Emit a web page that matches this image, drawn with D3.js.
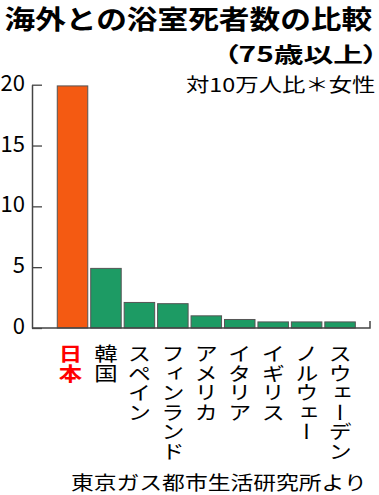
<!DOCTYPE html>
<html><head><meta charset="utf-8">
<script src="https://cdn.jsdelivr.net/npm/d3@7"></script>
<style>
html,body{margin:0;padding:0;background:#fff;}
svg{display:block;}
text{font-family:"Noto Sans CJK JP","Noto Sans",sans-serif;}
</style></head>
<body>
<script>
const categories = ["日本","韓国","スペイン","フィンランド","アメリカ","イタリア","イギリス","ノルウェー","スウェーデン"];
const values = [19.9, 4.9, 2.1, 2.0, 1.0, 0.7, 0.5, 0.5, 0.5];
const yTicks = [0, 5, 10, 15, 20];
const title = "海外との浴室死者数の比較";
const subtitle = "（75歳以上）";
const note = "対10万人比＊女性";
const source = "東京ガス都市生活研究所より";

const W = 379, H = 495;
const svg = d3.select("body").append("svg").attr("width", W).attr("height", H);

const x = d3.scaleBand().domain(categories).range([55.8, 356.8]).paddingInner(0.088).paddingOuter(0.044);
const y = d3.scaleLinear().domain([0, 20]).range([328, 84.7]);

// bars
svg.append("g").selectAll("rect").data(values).join("rect")
  .attr("x", (d,i) => x(categories[i]))
  .attr("y", d => y(d))
  .attr("width", x.bandwidth())
  .attr("height", d => y(0) - y(d))
  .attr("fill", (d,i) => i === 0 ? "#F45A12" : "#1D9B64")
  .attr("stroke", "#555")
  .attr("stroke-width", 1);

// y axis
const yAxis = svg.append("g").attr("transform", "translate(32,0)")
  .call(d3.axisLeft(y).tickValues(yTicks).tickSizeInner(-10).tickSizeOuter(0).tickPadding(7).tickFormat(d3.format("d")));
yAxis.select(".domain").attr("stroke", "#444").attr("stroke-width", 1.5);
yAxis.selectAll(".tick line").attr("stroke", "#444").attr("stroke-width", 1.3);
yAxis.selectAll(".tick text")
  .attr("font-family", "'Liberation Sans', Arial, sans-serif")
  .attr("font-size", 22).attr("dy", "0.25em").style("fill", "#000");

// x axis baseline
svg.append("path")
  .attr("d", d3.line()([[32, y(0)], [370, y(0)], [370, y(0) - 7]]))
  .attr("fill", "none").attr("stroke", "#444").attr("stroke-width", 1.5);

// category labels (vertical, horizontally stretched like the original)
svg.append("g").selectAll("text").data(categories).join("text")
  .attr("transform", d => `translate(${x(d) + x.bandwidth() / 2 - (d === "日本" ? 2 : 0)},344) scale(1.2,1)`)
  .style("writing-mode", "vertical-rl")
  .attr("text-anchor", "start")
  .attr("font-size", 19.5)
  .attr("font-weight", d => d === "日本" ? "bold" : "normal")
  .style("fill", d => d === "日本" ? "#F00" : "#000")
  .text(d => d);

function stretched(str, tx, ty, size, sx, weight, anchor, extraStyle) {
  const t = svg.append("text")
    .attr("transform", `translate(${tx},${ty}) scale(${sx},1)`)
    .attr("dominant-baseline", "central")
    .attr("text-anchor", anchor)
    .attr("font-size", size)
    .attr("font-weight", weight)
    .style("fill", "#000")
    .text(str);
  if (extraStyle) t.style("font-feature-settings", extraStyle);
  return t;
}

stretched(title, 4.5, 18, 26, 1.18, "bold", "start");
stretched(subtitle, 378, 53, 21, 1.42, "bold", "end", "'palt'");
stretched(note, 186, 83.5, 19, 1.23, "normal", "start");
stretched(source, 71, 481.5, 19, 1.2, "normal", "start");
</script>
</body></html>
